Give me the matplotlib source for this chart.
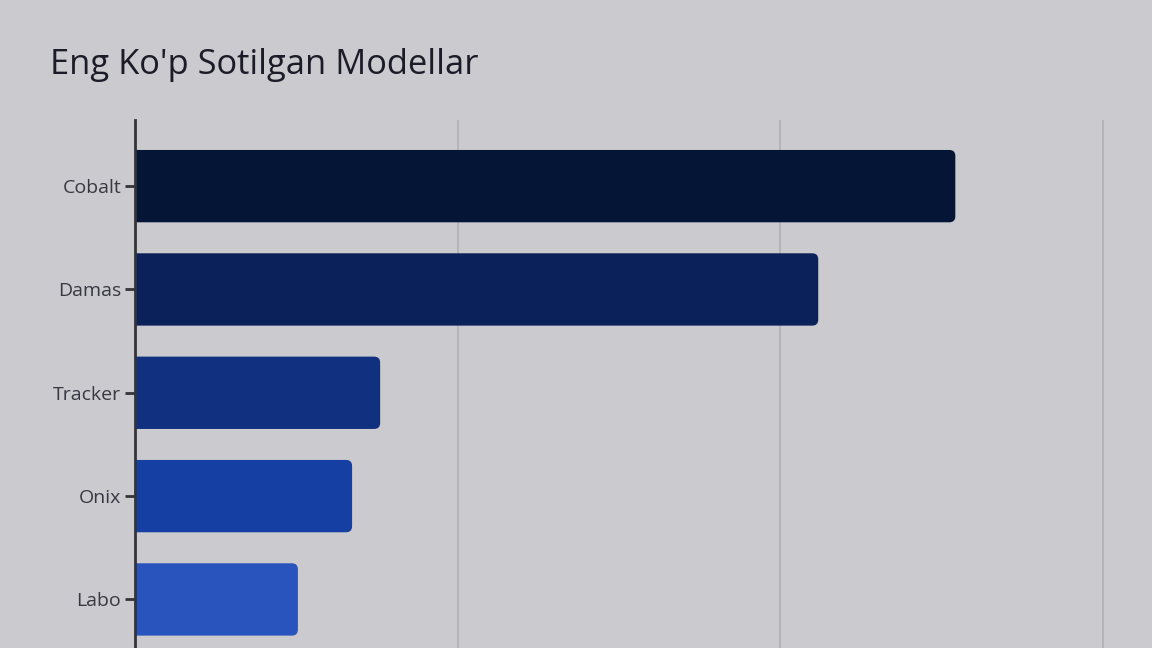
import matplotlib
matplotlib.use("Agg")
import matplotlib.pyplot as plt
from matplotlib.patches import FancyBboxPatch

models = ["Cobalt", "Damas", "Tracker", "Onix", "Labo"]
sales = [2543, 2118, 760, 673, 505]
colors = ["#051535", "#0a2259", "#11307f", "#153fa3", "#2953bd"]
grid_ticks = [0, 1000, 2000, 3000]

BG = "#cbcace"
plt.rcParams['font.family'] = ['Open Sans', 'DejaVu Sans']

W, H = 1152, 648
fig = plt.figure(figsize=(W / 100, H / 100), dpi=100, facecolor=BG)
ax = fig.add_axes([135 / W, 0, (1135 - 135) / W, (648 - 120) / H])
ax.set_facecolor(BG)

ypos = list(range(len(models)))
bars = ax.barh(ypos, sales, height=0.70, color=colors, zorder=3)

ax.set_xlim(0, 3100)
ax.set_ylim(4.47, -0.64)

# rounded corners
xpx = (1135 - 135) / 3100.0
ypx = (648 - 120) / (4.47 + 0.64)
r_px = 6
r_x = r_px / xpx
aspect = (r_px / ypx) / r_x
for b, c in zip(bars, colors):
    x0, y0 = b.get_x(), b.get_y()
    w, h = b.get_width(), b.get_height()
    b.set_visible(False)
    p = FancyBboxPatch((x0 - r_x * 2, y0), w + r_x * 2, h,
                       boxstyle=f"round,pad=0,rounding_size={r_x}",
                       mutation_aspect=aspect, facecolor=c, edgecolor="none",
                       zorder=3, clip_on=True)
    ax.add_patch(p)

ax.set_xticks(grid_ticks)
ax.tick_params(axis='x', length=0, labelbottom=False)
ax.grid(axis='x', color="#b3b2b7", linewidth=1.3, zorder=0)
ax.set_yticks(ypos)
ax.set_yticklabels(models, fontsize=14, color="#383842")
ax.tick_params(axis='y', length=7, width=2, color="#333338", pad=3)

for s in ["top", "right", "bottom"]:
    ax.spines[s].set_visible(False)
ax.spines["left"].set_color("#333338")
ax.spines["left"].set_linewidth(2)
ax.spines["left"].set_zorder(5)

fig.text(50 / W, 1 - 74 / H, "Eng Ko'p Sotilgan Modellar", fontsize=24.8,
         color="#1c1c28", ha="left", va="baseline")

fig.savefig("out.png", dpi=100, facecolor=BG)
